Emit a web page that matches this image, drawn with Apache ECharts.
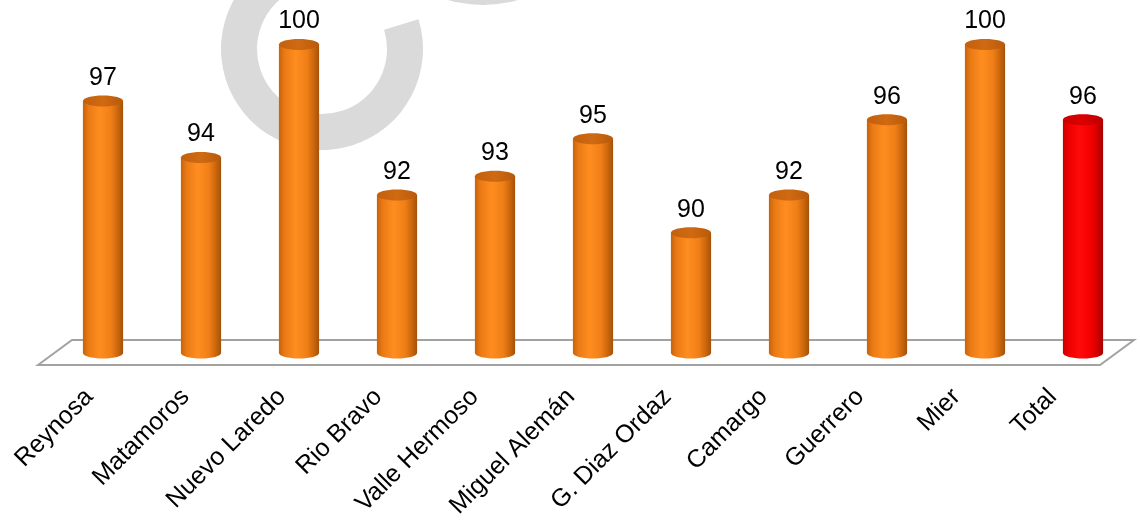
<!DOCTYPE html>
<html>
<head>
<meta charset="utf-8">
<title>Cobertura por municipio</title>
<script src="https://cdn.jsdelivr.net/npm/echarts@6/dist/echarts.min.js"></script>
<style>
  html, body { margin: 0; padding: 0; background: #ffffff; }
  #chart { width: 1140px; height: 521px; }
</style>
</head>
<body>
<div id="chart"></div>
<script>
// Municipalities and their values
const categories = ['Reynosa', 'Matamoros', 'Nuevo Laredo', 'Rio Bravo', 'Valle Hermoso',
  'Miguel Alemán', 'G. Diaz Ordaz', 'Camargo', 'Guerrero', 'Mier', 'Total'];
const values = [97, 94, 100, 92, 93, 95, 90, 92, 96, 100, 96];

// Value axis range (axis itself is hidden)
const Y_MIN = 83.6;
const Y_MAX = 102;

const FONT = '"Liberation Sans", Arial, sans-serif';

const palettes = {
  orange: {
    body: [[0, '#c8620c'], [0.14, '#ea7a14'], [0.42, '#ff8d20'], [0.7, '#ef7f16'], [0.88, '#c8650c'], [1, '#a3520a']],
    top: [[0, '#c2600e'], [0.5, '#d06a12'], [1, '#b75a0c']]
  },
  red: {
    body: [[0, '#c80000'], [0.14, '#ee0000'], [0.42, '#ff0a0a'], [0.7, '#f40000'], [0.88, '#cc0000'], [1, '#a80000']],
    top: [[0, '#cc0000'], [0.5, '#dc0000'], [1, '#bb0000']]
  }
};

function grad(stops) {
  return new echarts.graphic.LinearGradient(0, 0, 1, 0,
    stops.map(s => ({ offset: s[0], color: s[1] })));
}

// One cylinder per category: body, bottom cap, top cap and value label
function renderCylinder(params, api) {
  const idx = api.value(0);
  const v = api.value(1);
  const top = api.coord([idx, v]);
  const base = api.coord([idx, Y_MIN]);
  const band = api.size([1, 0])[0];
  const w = band * 0.41;
  const rx = w / 2;
  const ry = 5.5;
  const pal = categories[idx] === 'Total' ? palettes.red : palettes.orange;
  return {
    type: 'group',
    children: [
      { type: 'rect', shape: { x: top[0] - rx, y: top[1], width: w, height: base[1] - top[1] },
        style: { fill: grad(pal.body) } },
      { type: 'ellipse', shape: { cx: base[0], cy: base[1], rx: rx, ry: ry },
        style: { fill: grad(pal.body) } },
      { type: 'ellipse', shape: { cx: top[0], cy: top[1], rx: rx, ry: ry },
        style: { fill: grad(pal.top) } },
      { type: 'text', style: { text: String(v), x: top[0], y: top[1] - 23,
        align: 'center', verticalAlign: 'middle', fontSize: 25, fontFamily: FONT, fill: '#000' } }
    ]
  };
}

// Perspective floor under the bars, placed from the grid rectangle
function renderFloor(params, api) {
  const cs = params.coordSys;
  const L = cs.x, R = cs.x + cs.width, B = cs.y + cs.height;
  return {
    type: 'polygon',
    shape: { points: [[L - 16, B + 12], [L + 18, B - 13], [R + 2, B - 13], [R - 32, B + 12]] },
    style: { fill: '#ffffff', stroke: '#a2a2a2', lineWidth: 2 }
  };
}

const chart = echarts.init(document.getElementById('chart'), null, { renderer: 'canvas' });

chart.setOption({
  backgroundColor: '#ffffff',
  animation: false,
  graphic: [
    { type: 'sector', silent: true, z: -10,
      shape: { cx: 322, cy: 49, r: 101, r0: 65, startAngle: -0.3, endAngle: 4.4, clockwise: true },
      style: { fill: '#dadada' } },
    { type: 'circle', silent: true, z: -10,
      shape: { cx: 483, cy: -120, r: 125 },
      style: { fill: '#dadada' } }
  ],
  grid: [
    { left: 54, right: 8, top: 7, bottom: 168 },
    { left: 41, right: 39, top: 0, bottom: 156 }
  ],
  xAxis: [
    { type: 'category', gridIndex: 0, data: categories, show: false },
    { type: 'category', gridIndex: 1, data: categories,
      axisLine: { show: false }, axisTick: { show: false },
      axisLabel: { interval: 0, rotate: 45, margin: 34, fontSize: 25, fontFamily: FONT, color: '#000' } }
  ],
  yAxis: [
    { type: 'value', gridIndex: 0, min: Y_MIN, max: Y_MAX, show: false },
    { type: 'value', gridIndex: 1, show: false }
  ],
  series: [
    { type: 'custom', name: 'floor', xAxisIndex: 0, yAxisIndex: 0, z: 1, silent: true,
      renderItem: renderFloor, data: [[0, Y_MIN]] },
    { type: 'custom', name: 'valores', xAxisIndex: 0, yAxisIndex: 0, z: 2,
      renderItem: renderCylinder,
      data: values.map((v, i) => [i, v]) }
  ]
});
</script>
</body>
</html>
